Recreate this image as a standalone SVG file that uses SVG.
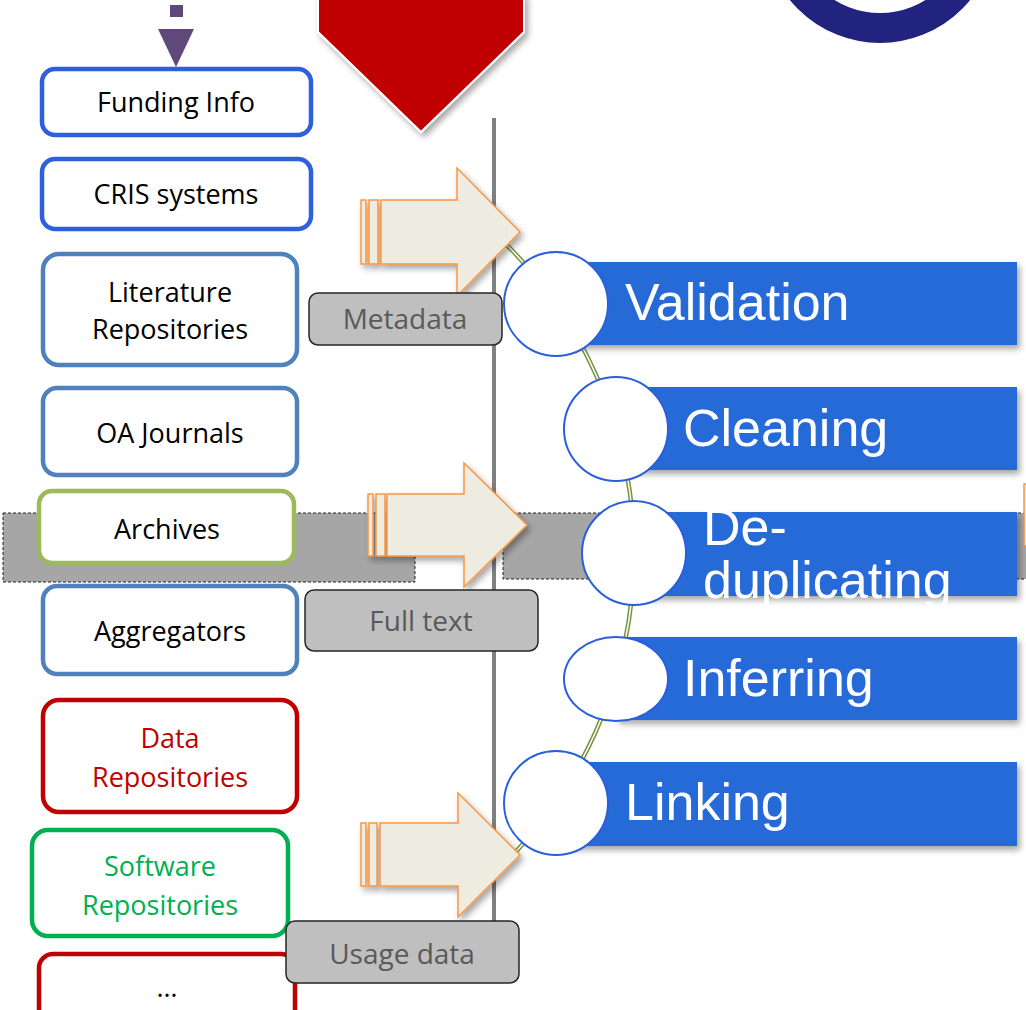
<svg xmlns="http://www.w3.org/2000/svg" width="1026" height="1010" viewBox="0 0 1026 1010">
<defs>
<style>
.src{fill:#fff;stroke-width:4.5}
.st{font-family:"Open Sans","Liberation Sans",sans-serif;font-size:27px;text-anchor:middle;fill:#000}
.lbl{fill:#bfbfbf;stroke:#262626;stroke-width:1.5}
.lt{font-family:"Open Sans","Liberation Sans",sans-serif;font-size:28px;text-anchor:middle;fill:#595959}
.bar{fill:#276bd8}
.circ{fill:#fff;stroke:#2a5fdc;stroke-width:2}
.stage{font-family:"Liberation Sans",Arial,sans-serif;font-size:52px;fill:#fff}
.barr{fill:#eeece1;stroke:#f79646;stroke-width:1.5}
.band{fill:#a6a6a6;stroke:#222;stroke-width:1;stroke-dasharray:3 2}
</style>
<filter id="sh" x="-10%" y="-10%" width="130%" height="140%">
<feDropShadow dx="3" dy="4" stdDeviation="3" flood-color="#000" flood-opacity="0.35"/>
</filter>
</defs>

<!-- background bands -->
<g id="band-left"><rect class="band" x="3" y="513" width="412" height="69"/></g>
<g id="band-right"><rect class="band" x="503" y="513" width="530" height="66"/></g>
<g id="edge-shape"><rect x="1024" y="484" width="10" height="62" fill="#eeece1" stroke="#f79646" stroke-width="1.5"/></g>

<!-- top elements -->
<g id="purple-arrow" fill="#5f497a">
<rect x="170" y="5" width="13" height="12"/>
<polygon points="158,29 194,29 176,67"/>
</g>
<g id="red-arrow"><polygon points="318,-5 524,-5 524,32 421,132 318,32" fill="#c00000" stroke="#fff" stroke-width="2" filter="url(#sh)"/></g>
<g id="ring"><circle cx="880" cy="-73" r="101" fill="none" stroke="#22237e" stroke-width="30"/></g>

<!-- vertical line -->
<g id="divider"><line x1="494" y1="118" x2="494" y2="922" stroke="#808080" stroke-width="4"/></g>

<!-- connectors -->
<g id="connectors">
<path d="M 497.6 236 A 436.5 436.5 0 0 1 497.6 870" fill="none" stroke="#77933c" stroke-width="4.5"/>
<path d="M 497.6 236 A 436.5 436.5 0 0 1 497.6 870" fill="none" stroke="#fff" stroke-width="1.5"/>
</g>

<!-- source boxes -->
<g id="funding"><rect class="src" x="42" y="69" width="269" height="66" rx="13" stroke="#2f5fdc"/><text class="st" x="176" y="112">Funding Info</text></g>
<g id="cris"><rect class="src" x="42" y="159" width="269" height="70" rx="13" stroke="#2f5fdc"/><text class="st" x="176" y="204">CRIS systems</text></g>
<g id="literature"><rect class="src" x="43" y="254" width="254" height="111" rx="16" stroke="#4f81bd"/><text class="st" x="170" y="302">Literature</text><text class="st" x="170" y="339">Repositories</text></g>
<g id="oa"><rect class="src" x="43" y="388" width="254" height="87" rx="14" stroke="#4f81bd"/><text class="st" x="170" y="443">OA Journals</text></g>
<g id="archives"><rect class="src" x="39" y="491" width="255" height="72" rx="13" stroke="#9bbb59"/><text class="st" x="167" y="539">Archives</text></g>
<g id="aggregators"><rect class="src" x="43" y="586" width="254" height="88" rx="14" stroke="#4f81bd"/><text class="st" x="170" y="641">Aggregators</text></g>
<g id="data"><rect class="src" x="43" y="700" width="254" height="112" rx="16" stroke="#c00000"/><text class="st" x="170" y="748" style="fill:#c00000">Data</text><text class="st" x="170" y="787" style="fill:#c00000">Repositories</text></g>
<g id="software"><rect class="src" x="32" y="830" width="256" height="106" rx="16" stroke="#00b050"/><text class="st" x="160" y="876" style="fill:#00b050">Software</text><text class="st" x="160" y="915" style="fill:#00b050">Repositories</text></g>
<g id="more"><rect class="src" x="39" y="954" width="256" height="80" rx="14" stroke="#c00000"/><text class="st" x="167" y="997">…</text></g>

<!-- block arrows -->
<g id="arrow-metadata" filter="url(#sh)">
<rect class="barr" x="361" y="200" width="5" height="64"/>
<rect class="barr" x="369" y="200" width="9" height="64"/>
<polygon class="barr" points="381,200 457,200 457,168 520,232 457,296 457,264 381,264"/>
</g>
<g id="arrow-fulltext" filter="url(#sh)">
<rect class="barr" x="368" y="494" width="5" height="62"/>
<rect class="barr" x="376" y="494" width="9" height="62"/>
<polygon class="barr" points="387,494 464,494 464,463 527,525 464,587 464,556 387,556"/>
</g>
<g id="arrow-usage" filter="url(#sh)">
<rect class="barr" x="361" y="823" width="5" height="63"/>
<rect class="barr" x="369" y="823" width="8" height="63"/>
<polygon class="barr" points="380,823 458,823 458,793 520,855 458,917 458,886 380,886"/>
</g>

<!-- labels -->
<g id="lbl-metadata"><rect class="lbl" x="309" y="293" width="193" height="52" rx="9"/><text class="lt" x="405" y="329">Metadata</text></g>
<g id="lbl-fulltext"><rect class="lbl" x="305" y="590" width="233" height="61" rx="9"/><text class="lt" x="421" y="631">Full text</text></g>
<g id="lbl-usage"><rect class="lbl" x="286" y="921" width="233" height="62" rx="9"/><text class="lt" x="402" y="964">Usage data</text></g>

<!-- stages -->
<g id="validation"><rect class="bar" x="556" y="262" width="461" height="83" filter="url(#sh)"/><circle class="circ" cx="556" cy="304" r="52"/><text class="stage" x="625" y="320">Validation</text></g>
<g id="cleaning"><rect class="bar" x="616" y="387" width="401" height="83" filter="url(#sh)"/><circle class="circ" cx="616" cy="429" r="52"/><text class="stage" x="683" y="446">Cleaning</text></g>
<g id="deduplicating"><rect class="bar" x="634" y="512" width="383" height="84" filter="url(#sh)"/><circle class="circ" cx="634" cy="553" r="52"/><text class="stage" x="703" y="545">De-</text><text class="stage" x="703" y="598">duplicating</text></g>
<g id="inferring"><rect class="bar" x="616" y="637" width="401" height="83" filter="url(#sh)"/><ellipse class="circ" cx="616" cy="679" rx="52" ry="42"/><text class="stage" x="683" y="696">Inferring</text></g>
<g id="linking"><rect class="bar" x="556" y="762" width="461" height="84" filter="url(#sh)"/><circle class="circ" cx="556" cy="803" r="52"/><text class="stage" x="625" y="820">Linking</text></g>
</svg>
